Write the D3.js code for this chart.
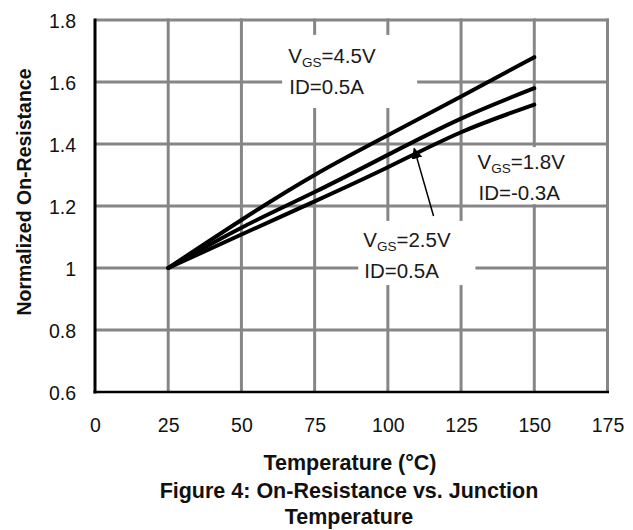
<!DOCTYPE html>
<html>
<head>
<meta charset="utf-8">
<script src="https://cdn.jsdelivr.net/npm/d3@7"></script>
<style>
  html, body { margin: 0; padding: 0; background: #fff; }
  svg { display: block; font-family: "Liberation Sans", Arial, sans-serif; }
</style>
</head>
<body>
<svg id="chart" width="633" height="530"></svg>
<script>
// Axis ticks
const xTicks = [0, 25, 50, 75, 100, 125, 150, 175];
const yTicks = [0.6, 0.8, 1.0, 1.2, 1.4, 1.6, 1.8];
const yTickLabels = ["0.6", "0.8", "1", "1.2", "1.4", "1.6", "1.8"];

// Junction temperature (°C) and normalized on-resistance per bias condition
const temps = [25, 50, 75, 100, 125, 150];
const rdsVgs45 = [1.00, 1.155, 1.30, 1.428, 1.553, 1.68];
const rdsVgs25 = [1.00, 1.13, 1.245, 1.365, 1.482, 1.58];
const rdsVgs18 = [1.00, 1.108, 1.215, 1.325, 1.438, 1.527];

const xTitle = "Temperature (°C)";
const yTitle = "Normalized On-Resistance";
const captionLines = ["Figure 4: On-Resistance vs. Junction", "Temperature"];

const svg = d3.select("#chart");

const x = d3.scaleLinear().domain([0, 175]).range([95, 607.5]);
const y = d3.scaleLinear().domain([0.6, 1.8]).range([392, 20]);

const GRID = "#868686";

// Grid lines (the 175 and 1.8 lines close the frame)
const grid = svg.append("g").attr("stroke", GRID).attr("stroke-width", 3);
grid.selectAll("line.v").data(xTicks.filter(d => d > 0)).join("line")
  .attr("class", "v")
  .attr("x1", d => x(d)).attr("x2", d => x(d))
  .attr("y1", y(1.8) - 1.5).attr("y2", y(0.6));
grid.selectAll("line.h").data(yTicks.filter(d => d > 0.6)).join("line")
  .attr("class", "h")
  .attr("x1", x(0)).attr("x2", x(175) + 1.5)
  .attr("y1", d => y(d)).attr("y2", d => y(d));

// Annotation labels: text boxes with a white fill that hides the grid behind them
const notes = [
  { box: [63.9, 110.0, 1.752, 1.516], at: [66, 1.661], v: "4.5V", id: "ID=0.5A" },
  { box: [126.8, 173.3, 1.390, 1.206], at: [130.6, 1.319], v: "1.8V", id: "ID=-0.3A" },
  { box: [89.9, 129.9, 1.152, 0.945], at: [91.6, 1.068], v: "2.5V", id: "ID=0.5A" }
];

svg.append("g").selectAll("rect").data(notes).join("rect")
  .attr("x", d => x(d.box[0])).attr("width", d => x(d.box[1]) - x(d.box[0]))
  .attr("y", d => y(d.box[2])).attr("height", d => y(d.box[3]) - y(d.box[2]))
  .attr("fill", "#fff");

// Axis lines
svg.append("line")
  .attr("x1", x(0)).attr("x2", x(0))
  .attr("y1", y(1.8) - 1.5).attr("y2", y(0.6) + 1.5)
  .attr("stroke", "#000").attr("stroke-width", 3);
svg.append("line")
  .attr("x1", x(0) - 1.5).attr("x2", x(175) + 1.5)
  .attr("y1", y(0.6)).attr("y2", y(0.6))
  .attr("stroke", "#000").attr("stroke-width", 2.6);

// Tick labels
const yAxis = svg.append("g")
  .attr("transform", `translate(${x(0) - 19},0)`)
  .call(d3.axisLeft(y).tickValues(yTicks).tickSize(0)
    .tickFormat((d, i) => yTickLabels[i]));
yAxis.select(".domain").remove();
yAxis.selectAll("text")
  .attr("font-family", "Liberation Sans, Arial, sans-serif")
  .attr("font-size", 19.5).attr("fill", "#111").attr("x", 0).attr("dy", "0.36em");

const xAxis = svg.append("g")
  .attr("transform", `translate(0,${y(0.6) + 26})`)
  .call(d3.axisBottom(x).tickValues(xTicks).tickSize(0).tickFormat(d3.format("d")));
xAxis.select(".domain").remove();
xAxis.selectAll("text")
  .attr("font-family", "Liberation Sans, Arial, sans-serif")
  .attr("font-size", 19.5).attr("fill", "#111").attr("y", 0).attr("dy", "0.71em");

// Curves
const series = [rdsVgs45, rdsVgs25, rdsVgs18];
const line = d3.line()
  .x((d, i) => x(temps[i]))
  .y(d => y(d))
  .curve(d3.curveNatural);
svg.append("g").selectAll("path").data(series).join("path")
  .attr("d", d => line(d))
  .attr("fill", "none").attr("stroke", "#000")
  .attr("stroke-width", 4).attr("stroke-linejoin", "round").attr("stroke-linecap", "round");

// Arrow from the 2.5 V label to its curve
const defs = svg.append("defs");
defs.append("marker")
  .attr("id", "head").attr("viewBox", "0 0 10 10")
  .attr("refX", 9).attr("refY", 5)
  .attr("markerWidth", 11).attr("markerHeight", 11)
  .attr("markerUnits", "userSpaceOnUse")
  .attr("orient", "auto")
  .append("path").attr("d", "M0,0 L10,5 L0,10 Z").attr("fill", "#000");
svg.append("line")
  .attr("x1", x(115.6)).attr("y1", y(1.168))
  .attr("x2", x(109)).attr("y2", y(1.385))
  .attr("stroke", "#000").attr("stroke-width", 1.5)
  .attr("marker-end", "url(#head)");

// Annotation text
const noteText = svg.append("g")
  .attr("font-family", "Liberation Sans, Arial, sans-serif")
  .attr("fill", "#1a1a1a");
notes.forEach(n => {
  const t = noteText.append("text")
    .attr("x", x(n.at[0])).attr("y", y(n.at[1])).attr("font-size", 20.5);
  t.append("tspan").text("V");
  t.append("tspan").attr("font-size", 13.5).attr("dy", 4).text("GS");
  t.append("tspan").attr("dy", -4).text("=" + n.v);
  noteText.append("text")
    .attr("x", x(n.at[0]) + 1).attr("y", y(n.at[1]) + 31)
    .attr("font-size", 20.5).text(n.id);
});

// Titles
svg.append("text")
  .attr("x", 350).attr("y", 470)
  .attr("text-anchor", "middle").attr("font-weight", "bold")
  .attr("font-size", 21.5).attr("fill", "#111").text(xTitle);

svg.append("text")
  .attr("transform", "translate(31,192)rotate(-90)")
  .attr("text-anchor", "middle").attr("font-weight", "bold")
  .attr("font-size", 19.5).attr("fill", "#111").text(yTitle);

svg.append("g").selectAll("text").data(captionLines).join("text")
  .attr("x", 349).attr("y", (d, i) => 498 + i * 26)
  .attr("text-anchor", "middle").attr("font-weight", "bold")
  .attr("font-size", 21.5).attr("fill", "#111").text(d => d);
</script>
</body>
</html>
